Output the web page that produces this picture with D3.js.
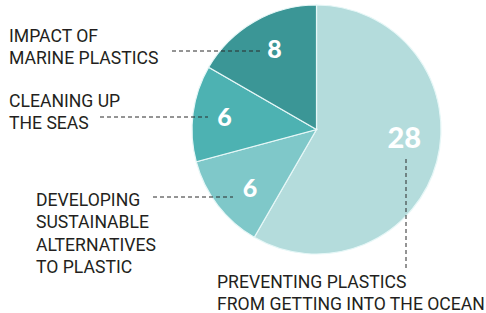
<!DOCTYPE html>
<html><head><meta charset="utf-8">
<script src="https://cdn.jsdelivr.net/npm/d3@7/dist/d3.min.js"></script>
<style>
html,body{margin:0;padding:0;background:#fff;}
svg{display:block;}
</style></head>
<body>
<script>
const categories = [
  "PREVENTING PLASTICS FROM GETTING INTO THE OCEAN",
  "DEVELOPING SUSTAINABLE ALTERNATIVES TO PLASTIC",
  "CLEANING UP THE SEAS",
  "IMPACT OF MARINE PLASTICS"
];
const values = [28, 6, 6, 8];
const labelLines = [
  ["PREVENTING PLASTICS", "FROM GETTING INTO THE OCEAN"],
  ["DEVELOPING", "SUSTAINABLE", "ALTERNATIVES", "TO PLASTIC"],
  ["CLEANING UP", "THE SEAS"],
  ["IMPACT OF", "MARINE PLASTICS"]
];
const colors = ["#b4dcdc", "#7fc8c9", "#4db2b2", "#3b9696"];

const W = 486, H = 313;
const cx = 316.5, cy = 129.5, R = 124.5;

const svg = d3.select("body").append("svg").attr("width", W).attr("height", H);
const g = svg.append("g").attr("transform", `translate(${cx},${cy})`);

const pie = d3.pie().sort(null).value(d => d);
const arcs = pie(values);
const arc = d3.arc().innerRadius(0).outerRadius(R);

g.selectAll("path.slice").data(arcs).enter().append("path")
  .attr("class", "slice")
  .attr("d", arc)
  .attr("fill", (d, i) => colors[i])
  .attr("stroke", "#e6f7f7")
  .attr("stroke-width", 1.2);

// value label placement (radius, angle tweak)
const labelR = [88, 88, 93, 92];
const angleShift = [-0.18, -0.06, 0.02, 0.05];
const fontSz = [29, 25, 25, 25];
arcs.forEach((d, i) => {
  const a = (d.startAngle + d.endAngle) / 2 + angleShift[i];
  const x = labelR[i] * Math.sin(a), y = -labelR[i] * Math.cos(a);
  g.append("text")
    .attr("x", x).attr("y", y)
    .attr("text-anchor", "middle")
    .attr("dominant-baseline", "central")
    .attr("font-family", "Lato, 'Open Sans', sans-serif")
    .attr("font-weight", 900)
    .attr("font-size", fontSz[i])
    .attr("fill", "#ffffff")
    .text(values[i]);
});

// category labels
const labelFont = "Roboto, 'Open Sans', sans-serif";
const textPos = [
  {x: 217, y: 288},
  {x: 36, y: 206},
  {x: 9, y: 107},
  {x: 9, y: 42}
];
labelLines.forEach((lines, i) => {
  const t = svg.append("text")
    .attr("font-family", labelFont)
    .attr("font-size", 17.6)
    .attr("fill", "#231f20");
  lines.forEach((ln, j) => {
    t.append("tspan").attr("x", textPos[i].x).attr("y", textPos[i].y + j * 22.3).text(ln);
  });
});

// leader lines
const leaders = [
  [[406, 159], [406, 268]],
  [[153, 197], [233, 197]],
  [[100, 117], [208, 117]],
  [[172, 51], [260, 51]]
];
leaders.forEach(l => {
  svg.append("line")
    .attr("x1", l[0][0]).attr("y1", l[0][1])
    .attr("x2", l[1][0]).attr("y2", l[1][1])
    .attr("stroke", "#2a2a2a")
    .attr("stroke-width", 1)
    .attr("stroke-dasharray", "4,3");
});
</script>
</body></html>
